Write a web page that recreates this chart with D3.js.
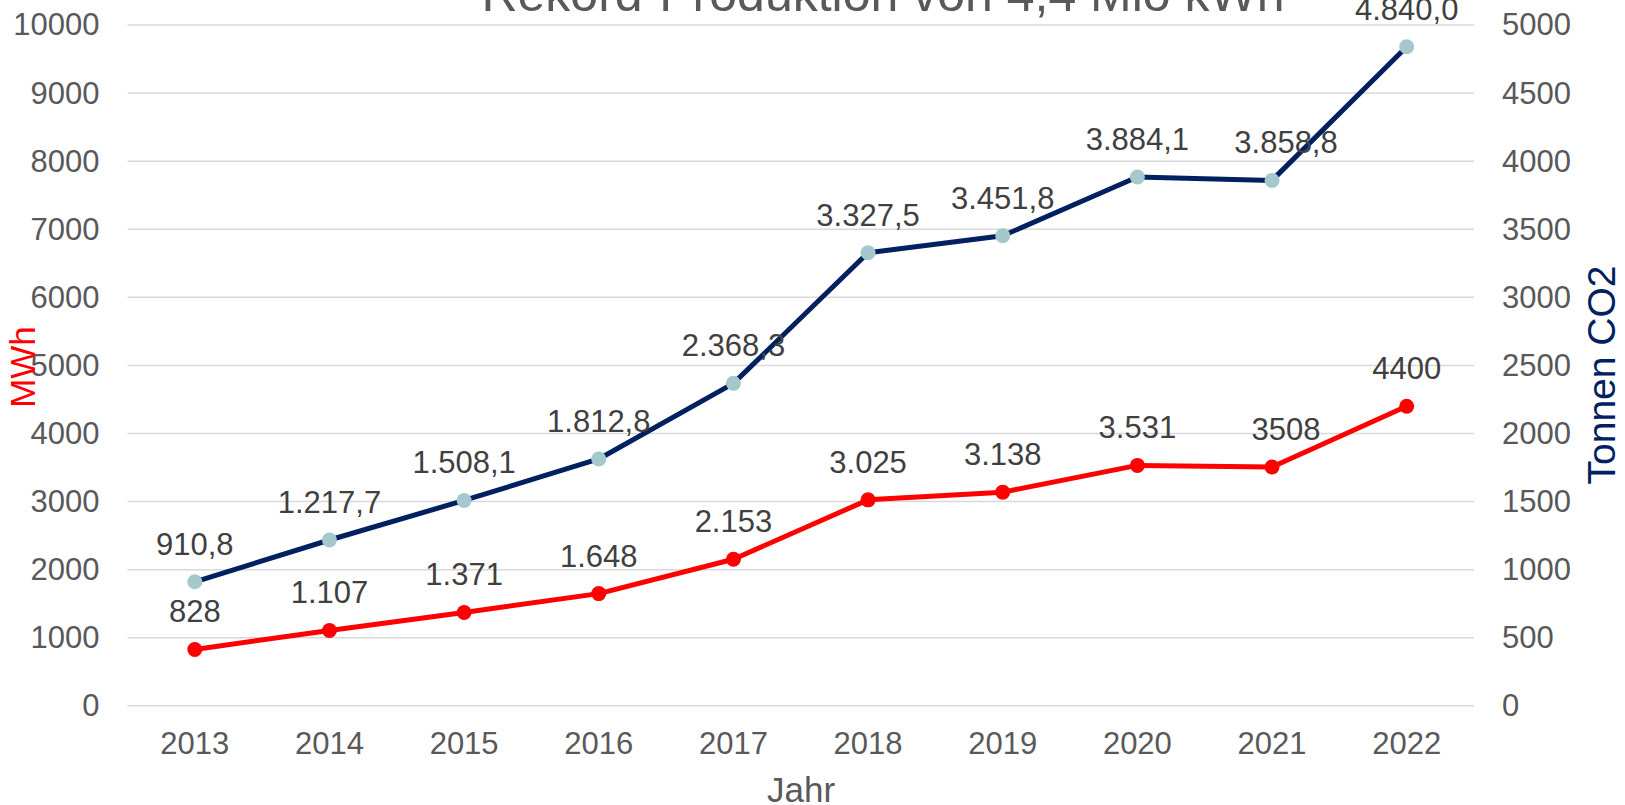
<!DOCTYPE html>
<html>
<head>
<meta charset="utf-8">
<script src="https://cdn.jsdelivr.net/npm/d3@7"></script>
<style>
  html, body { margin: 0; padding: 0; background: #fff; }
  svg { display: block; font-family: "Liberation Sans", Arial, sans-serif; }
</style>
</head>
<body>
<svg id="chart" width="1625" height="805"></svg>
<script>
// ---- data ----
const years = ["2013","2014","2015","2016","2017","2018","2019","2020","2021","2022"];
const mwh = [828, 1107, 1371, 1648, 2153, 3025, 3138, 3531, 3508, 4400];
const mwhLabels = ["828","1.107","1.371","1.648","2.153","3.025","3.138","3.531","3508","4400"];
const co2 = [910.8, 1217.7, 1508.1, 1812.8, 2368.3, 3327.5, 3451.8, 3884.1, 3858.8, 4840.0];
const co2Labels = ["910,8","1.217,7","1.508,1","1.812,8","2.368,3","3.327,5","3.451,8","3.884,1","3.858,8","4.840,0"];
const leftTicks = [0,1000,2000,3000,4000,5000,6000,7000,8000,9000,10000];
const rightTicks = [0,500,1000,1500,2000,2500,3000,3500,4000,4500,5000];
const titleText = "Rekord-Produktion von 4,4 Mio kWh";

(function () {
// ---- layout ----
const svg = d3.select("#chart");
const pL = 127.5, pR = 1474, pT = 25, pB = 705.8;
const textColor = "#595959";
const fs = 31;

const x = d3.scaleBand().domain(years).range([pL, pR]);
const yL = d3.scaleLinear().domain([0, 10000]).range([pB, pT]);
const yR = d3.scaleLinear().domain([0, 5000]).range([pB, pT]);
const cx = d => x(d) + x.bandwidth() / 2;

// gridlines
svg.append("g").selectAll("line").data(leftTicks).join("line")
  .attr("x1", pL).attr("x2", pR)
  .attr("y1", d => yL(d)).attr("y2", d => yL(d))
  .attr("stroke", "#d9d9d9").attr("stroke-width", 1.5);

// left axis
const gL = svg.append("g").attr("transform", `translate(${pL},0)`)
  .call(d3.axisLeft(yL).tickValues(leftTicks).tickFormat(d3.format("d")).tickSize(0).tickPadding(28));
gL.select(".domain").remove();
gL.selectAll("text").attr("fill", textColor).style("font-size", fs + "px")
  .style("font-family", "Liberation Sans, Arial, sans-serif");

// right axis
const gR = svg.append("g").attr("transform", `translate(${pR},0)`)
  .call(d3.axisRight(yR).tickValues(rightTicks).tickFormat(d3.format("d")).tickSize(0).tickPadding(28));
gR.select(".domain").remove();
gR.selectAll("text").attr("fill", textColor).style("font-size", fs + "px")
  .style("font-family", "Liberation Sans, Arial, sans-serif");

// bottom axis
const gB = svg.append("g").attr("transform", `translate(0,${pB})`)
  .call(d3.axisBottom(x).tickSize(0).tickPadding(26));
gB.select(".domain").remove();
gB.selectAll("text").attr("fill", textColor).style("font-size", fs + "px")
  .style("font-family", "Liberation Sans, Arial, sans-serif");

// title
svg.append("text").attr("x", 883).attr("y", 11).attr("text-anchor", "middle")
  .attr("fill", textColor).style("font-size", "50px").text(titleText);

// axis titles
svg.append("text").attr("x", 801).attr("y", 802).attr("text-anchor", "middle")
  .attr("fill", textColor).style("font-size", "35px").text("Jahr");
svg.append("text").attr("transform", "translate(35,367) rotate(-90)")
  .attr("text-anchor", "middle").attr("fill", "#ff0000").style("font-size", "35px").text("MWh");
svg.append("text").attr("transform", "translate(1615,375) rotate(-90)")
  .attr("text-anchor", "middle").attr("fill", "#002060").style("font-size", "39px").text("Tonnen  CO2");

// lines
const lineL = d3.line().x((d, i) => cx(years[i])).y(d => yL(d));
const lineR = d3.line().x((d, i) => cx(years[i])).y(d => yR(d));

svg.append("path").datum(mwh).attr("d", lineL).attr("fill", "none")
  .attr("stroke", "#ff0000").attr("stroke-width", 5).attr("stroke-linejoin", "round");
svg.append("path").datum(co2).attr("d", lineR).attr("fill", "none")
  .attr("stroke", "#002060").attr("stroke-width", 5).attr("stroke-linejoin", "round");

svg.append("g").selectAll("circle").data(mwh).join("circle")
  .attr("cx", (d, i) => cx(years[i])).attr("cy", d => yL(d)).attr("r", 7.5).attr("fill", "#ff0000");
svg.append("g").selectAll("circle").data(co2).join("circle")
  .attr("cx", (d, i) => cx(years[i])).attr("cy", d => yR(d)).attr("r", 7.5).attr("fill", "#a5c8cc");

// data labels
const nudge = i => (i === 8 ? 14 : 0);
svg.append("g").selectAll("text").data(mwh).join("text")
  .attr("x", (d, i) => cx(years[i]) + nudge(i)).attr("y", d => yL(d) - 27)
  .attr("text-anchor", "middle").attr("fill", "#404040").style("font-size", fs + "px")
  .text((d, i) => mwhLabels[i]);
svg.append("g").selectAll("text").data(co2).join("text")
  .attr("x", (d, i) => cx(years[i]) + nudge(i)).attr("y", d => yR(d) - 27)
  .attr("text-anchor", "middle").attr("fill", "#404040").style("font-size", fs + "px")
  .text((d, i) => co2Labels[i]);
})();
</script>
</body>
</html>
